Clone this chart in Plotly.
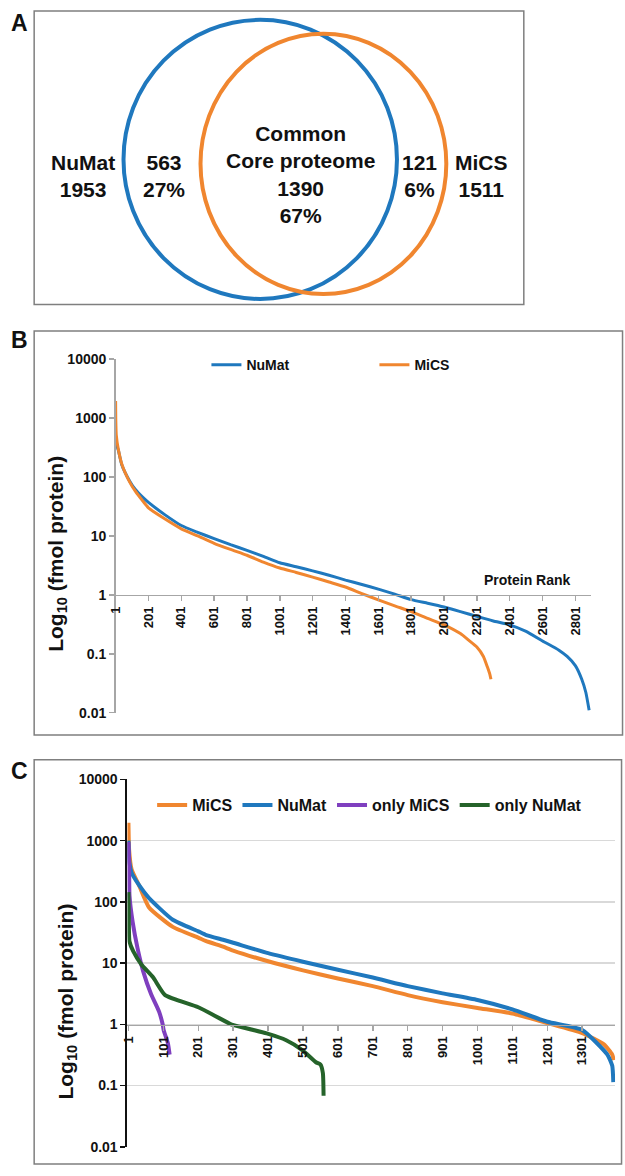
import plotly.graph_objects as go

W, H = 625, 1176


def px(x):
    return x / W


def py(y):
    return 1 - y / H


FONT = "Liberation Sans, Arial, sans-serif"
BLUE = "#1f78be"
ORANGE = "#f0862f"
PURPLE = "#7f3fbf"
GREEN = "#25632a"
TXT = "#111111"

# ---------------- Panel A : Venn data ----------------
venn_names = ["NuMat", "MiCS"]
venn_totals = [1953, 1511]
venn_only = [563, 121]
venn_only_pct = ["27%", "6%"]
venn_common_label = "Common<br>Core proteome"
venn_common = 1390
venn_common_pct = "67%"

# ---------------- Panel B ----------------
b_numat_rank = [1, 10, 17, 39, 87, 120, 167, 201, 300, 401, 501, 601, 701, 801, 901,
                1001, 1101, 1201, 1301, 1401, 1501, 1601, 1701, 1801, 1901, 2001,
                2101, 2201, 2301, 2401, 2501, 2601, 2701, 2751, 2801, 2840, 2865, 2885]
b_numat_val = [420, 330, 290, 160, 85, 62, 45, 37, 23, 15, 11.5, 9.0, 7.1, 5.7, 4.5,
               3.5, 3.0, 2.55, 2.15, 1.78, 1.5, 1.25, 1.03, 0.83, 0.72, 0.62,
               0.52, 0.43, 0.36, 0.31, 0.24, 0.165, 0.115, 0.09, 0.063, 0.037, 0.022, 0.011]
b_mics_rank = [1, 2, 5, 17, 39, 87, 120, 167, 201, 300, 401, 501, 601, 701, 801, 901,
               1001, 1101, 1201, 1301, 1401, 1501, 1601, 1701, 1801, 1901, 2001,
               2101, 2151, 2201, 2241, 2265, 2280, 2287]
b_mics_val = [1950, 1000, 520, 300, 165, 82, 58, 39, 30, 19.5, 13.2, 10, 7.5, 5.9, 4.7, 3.6,
              2.85, 2.4, 2.0, 1.65, 1.36, 1.05, 0.82, 0.65, 0.52, 0.4, 0.31,
              0.22, 0.17, 0.13, 0.09, 0.06, 0.045, 0.037]
b_xticks = [1, 201, 401, 601, 801, 1001, 1201, 1401, 1601, 1801, 2001, 2201, 2401, 2601, 2801]

y_tickvals = [0.01, 0.1, 1, 10, 100, 1000, 10000]
y_ticktext = ["0.01", "0.1", "1", "10", "100", "1000", "10000"]

# ---------------- Panel C ----------------
c_mics_rank = [1, 3, 10, 32, 60, 128, 201, 222, 272, 301, 401, 501, 601, 701, 801, 901,
               1001, 1101, 1201, 1301, 1363, 1387, 1391]
c_mics_val = [1950, 700, 340, 182, 81, 39, 26, 23, 18.5, 16, 10.7, 7.6, 5.6, 4.2, 3.0, 2.3,
              1.85, 1.5, 1.05, 0.72, 0.47, 0.32, 0.26]
c_numat_rank = [1, 4, 10, 32, 60, 128, 201, 222, 272, 301, 401, 501, 601, 701, 801, 901,
                1001, 1101, 1201, 1301, 1373, 1387, 1390]
c_numat_val = [1000, 430, 300, 185, 115, 51, 33, 29, 24, 21.5, 14.5, 10.5, 7.8, 5.8, 4.2, 3.2,
               2.5, 1.75, 1.1, 0.81, 0.32, 0.21, 0.114]
c_only_mics_rank = [1, 2, 3, 4, 13, 27, 43, 66, 89, 99, 102, 114, 119]
c_only_mics_val = [950, 600, 385, 127, 47, 17.5, 7.4, 3.1, 1.6, 1.0, 0.8, 0.49, 0.32]
c_only_numat_rank = [1, 2, 4, 15, 38, 72, 106, 201, 295, 300, 397, 453, 499, 538, 551, 558, 560]
c_only_numat_val = [144, 60, 22.5, 15.5, 9.5, 5.8, 3.0, 1.9, 1.0, 0.98, 0.71, 0.55, 0.38,
                    0.24, 0.22, 0.16, 0.068]
c_xticks = [1, 101, 201, 301, 401, 501, 601, 701, 801, 901, 1001, 1101, 1201, 1301]

fig = go.Figure()

LS = dict(shape="spline", smoothing=0.5)

# Panel B traces
fig.add_trace(go.Scatter(x=b_numat_rank, y=b_numat_val, mode="lines", name="NuMat",
                         line=dict(color=BLUE, width=3, **LS), xaxis="x", yaxis="y", legend="legend"))
fig.add_trace(go.Scatter(x=b_mics_rank, y=b_mics_val, mode="lines", name="MiCS",
                         line=dict(color=ORANGE, width=3, **LS), xaxis="x", yaxis="y", legend="legend"))

# Panel C traces
fig.add_trace(go.Scatter(x=c_mics_rank, y=c_mics_val, mode="lines", name="MiCS",
                         line=dict(color=ORANGE, width=4, **LS), xaxis="x2", yaxis="y2", legend="legend2"))
fig.add_trace(go.Scatter(x=c_numat_rank, y=c_numat_val, mode="lines", name="NuMat",
                         line=dict(color=BLUE, width=4, **LS), xaxis="x2", yaxis="y2", legend="legend2"))
fig.add_trace(go.Scatter(x=c_only_mics_rank, y=c_only_mics_val, mode="lines", name="only MiCS",
                         line=dict(color=PURPLE, width=4, **LS), xaxis="x2", yaxis="y2", legend="legend2"))
fig.add_trace(go.Scatter(x=c_only_numat_rank, y=c_only_numat_val, mode="lines", name="only NuMat",
                         line=dict(color=GREEN, width=4, **LS), xaxis="x2", yaxis="y2", legend="legend2"))

tickfont = dict(family=FONT, size=13, color=TXT, weight="bold")
ytickfont = dict(family=FONT, size=14, color=TXT, weight="bold")

shapes = []
# panel boxes
for (x0, y0, x1, y1) in [(26.5, 3, 522.5, 300.5), (26.5, 327.5, 622.5, 737), (26.5, 762, 621.5, 1172)]:
    shapes.append(dict(type="rect", xref="paper", yref="paper", x0=px(x0), x1=px(x1),
                       y0=py(y1), y1=py(y0), line=dict(color="#7f7f7f", width=1.5),
                       fillcolor="rgba(0,0,0,0)", layer="below"))
# Venn circles
shapes.append(dict(type="circle", xref="paper", yref="paper", x0=px(117), x1=px(394),
                   y0=py(295), y1=py(12), line=dict(color=BLUE, width=4)))
shapes.append(dict(type="circle", xref="paper", yref="paper", x0=px(195), x1=px(444),
                   y0=py(290), y1=py(26), line=dict(color=ORANGE, width=4)))

afont = dict(family=FONT, size=21, color=TXT, weight="bold")
annotations = [
    dict(text=f"{venn_names[0]}<br>{venn_totals[0]}", x=px(76), y=py(170)),
    dict(text=f"{venn_only[0]}<br>{venn_only_pct[0]}", x=px(158), y=py(170)),
    dict(text=f"{venn_common_label}<br>{venn_common}<br>{venn_common_pct}", x=px(296), y=py(169)),
    dict(text=f"{venn_only[1]}<br>{venn_only_pct[1]}", x=px(417), y=py(170)),
    dict(text=f"{venn_names[1]}<br>{venn_totals[1]}", x=px(480), y=py(170)),
]
for a in annotations:
    a.update(xref="paper", yref="paper", showarrow=False, font=afont, xanchor="center", yanchor="middle")

plabel = dict(family=FONT, size=23, color=TXT, weight="bold")
for lab, yy in [("A", 15), ("B", 337), ("C", 774)]:
    annotations.append(dict(text=lab, x=px(12), y=py(yy), xref="paper", yref="paper",
                            showarrow=False, font=plabel, xanchor="center", yanchor="middle"))

ytitle_font = dict(family=FONT, size=21, color=TXT, weight="bold")
annotations.append(dict(text="Log<sub>10</sub> (fmol protein)", x=px(50), y=py(553), xref="paper",
                        yref="paper", showarrow=False, textangle=-90, font=ytitle_font,
                        xanchor="center", yanchor="middle"))
annotations.append(dict(text="Log<sub>10</sub> (fmol protein)", x=px(60), y=py(1007), xref="paper",
                        yref="paper", showarrow=False, textangle=-90, font=ytitle_font,
                        xanchor="center", yanchor="middle"))
annotations.append(dict(text="Protein Rank", x=px(526), y=py(580), xref="paper", yref="paper",
                        showarrow=False, font=dict(family=FONT, size=14, color=TXT, weight="bold"),
                        xanchor="center", yanchor="middle"))

c_x0 = 1 - (122 - 121) / 0.3536
c_x1 = 1 + (615 - 122) / 0.3536

fig.update_layout(
    width=W, height=H,
    margin=dict(l=0, r=0, t=0, b=0, pad=0),
    paper_bgcolor="white", plot_bgcolor="rgba(0,0,0,0)",
    font=dict(family=FONT, color=TXT),
    shapes=shapes,
    annotations=annotations,
    xaxis=dict(domain=[px(109), px(591)], range=[1, 2899], anchor="free", position=py(595),
               showline=True, linecolor="#a6a6a6", linewidth=1.5, ticks="outside", ticklen=5,
               tickcolor="#a6a6a6", tickwidth=1.5, tickvals=b_xticks, ticktext=[str(v) for v in b_xticks],
               tickangle=-90, tickfont=tickfont, showgrid=False, zeroline=False),
    yaxis=dict(domain=[py(714.4), py(356)], type="log", range=[-2, 4], anchor="x",
               showline=True, linecolor="#a6a6a6", linewidth=1.5, ticks="outside", ticklen=5,
               tickcolor="#a6a6a6", tickwidth=1.5, tickvals=y_tickvals, ticktext=y_ticktext,
               tickfont=ytickfont, showgrid=False, zeroline=False),
    xaxis2=dict(domain=[px(121), px(615)], range=[c_x0, c_x1], anchor="free", position=py(1030.6),
                showline=True, linecolor="#a6a6a6", linewidth=1.5, ticks="outside", ticklen=5,
                tickcolor="#a6a6a6", tickwidth=1.5, tickvals=c_xticks, ticktext=[str(v) for v in c_xticks],
                tickangle=-90, tickfont=tickfont, showgrid=False, zeroline=False),
    yaxis2=dict(domain=[py(1154.5), py(782)], type="log", range=[-2, 4], anchor="x2",
                showline=True, linecolor="#111111", linewidth=2, ticks="outside", ticklen=5,
                tickcolor="#111111", tickwidth=1.5, tickvals=y_tickvals, ticktext=y_ticktext,
                tickfont=ytickfont, showgrid=True, gridcolor="#d9d9d9", gridwidth=1.5, zeroline=False),
    legend=dict(orientation="h", x=px(201), y=py(362), xanchor="left", yanchor="middle",
                font=dict(family=FONT, size=14, color=TXT, weight="bold"),
                bgcolor="rgba(0,0,0,0)", entrywidth=123, entrywidthmode="pixels"),
    legend2=dict(orientation="h", x=px(146), y=py(808), xanchor="left", yanchor="middle",
                 font=dict(family=FONT, size=16, color=TXT, weight="bold"),
                 bgcolor="rgba(0,0,0,0)"),
    showlegend=True,
)

fig.write_html("out.html",
               config={"displayModeBar": False, "staticPlot": True},
               post_script="document.body.style.margin='0';document.body.style.padding='0';"
                           "document.documentElement.style.overflow='hidden';")
